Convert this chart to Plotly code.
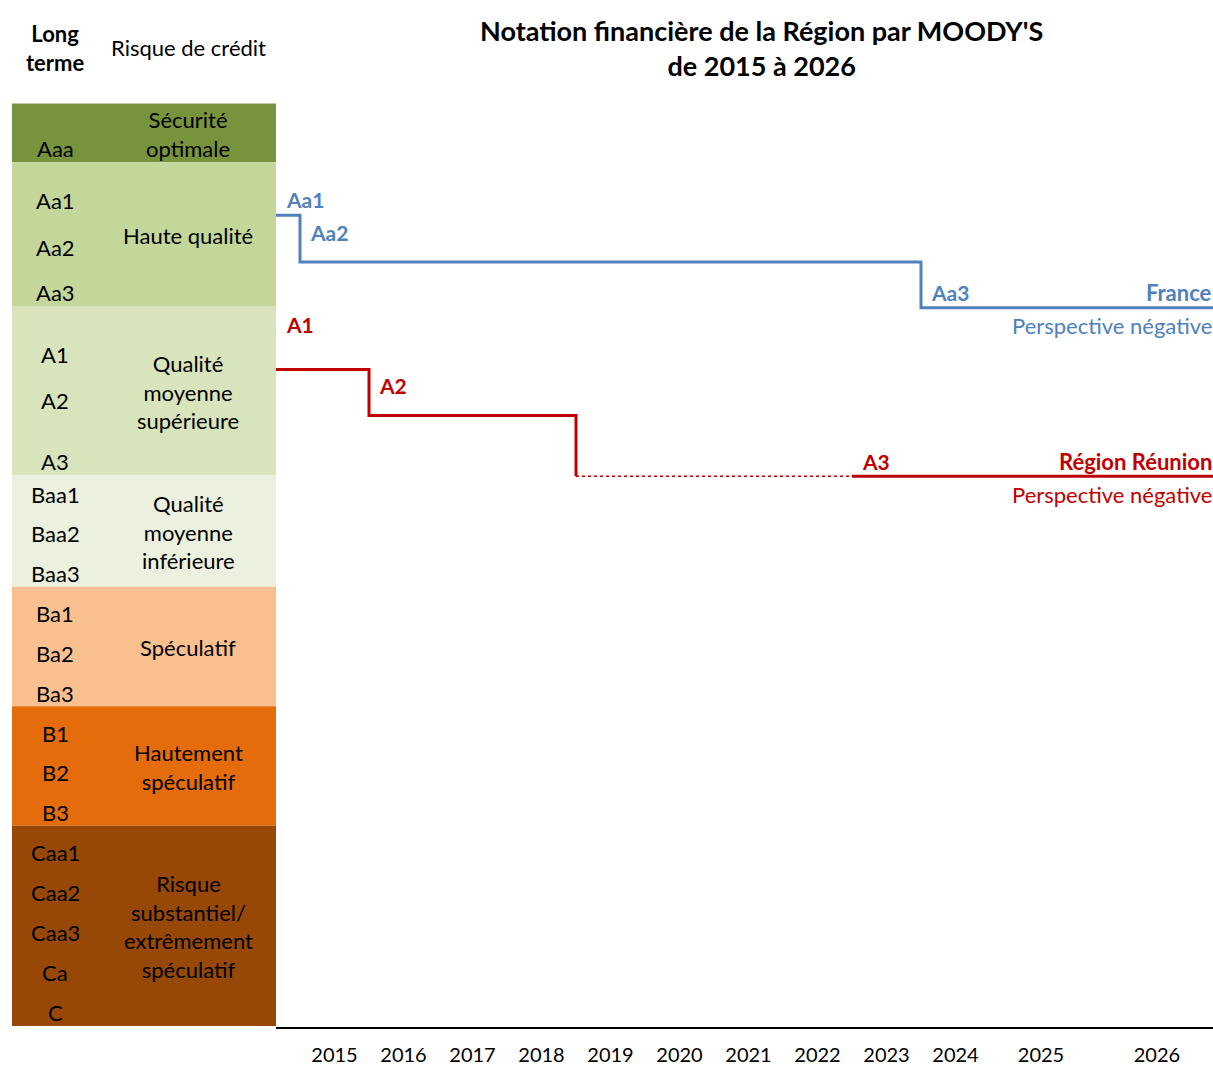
import plotly.graph_objects as go

# ------------------------------------------------------------------ data
ratings = ["Aaa", "Aa1", "Aa2", "Aa3", "A1", "A2", "A3", "Baa1", "Baa2", "Baa3",
           "Ba1", "Ba2", "Ba3", "B1", "B2", "B3", "Caa1", "Caa2", "Caa3", "Ca", "C"]
risk_categories = ["Sécurité<br>optimale", "Haute qualité",
                   "Qualité<br>moyenne<br>supérieure", "Qualité<br>moyenne<br>inférieure",
                   "Spéculatif", "Hautement<br>spéculatif",
                   "Risque<br>substantiel/<br>extrêmement<br>spéculatif"]
year_labels = [str(y) for y in range(2015, 2027)]

france_change_years = [2015, 2024]
france_ratings = ["Aa1", "Aa2", "Aa3"]
region_change_years = [2016, 2019]
region_ratings = ["A1", "A2", "A3"]
region_unrated_period = [2019, 2023]   # dotted segment
region_resume_year = 2023

# ------------------------------------------------------------------ layout constants
W, H = 1213, 1066
FONT = "Lato"
BLUE = "#4F81BD"
RED = "#C00000"
X_RANGE = [2014.652, 2028.232]
TICK_POS = [2015.5 + i for i in range(10)] + [2025.739, 2027.42]
ROW_Y = [149, 201, 248, 294, 356, 402, 463, 496, 536, 576, 616, 656, 696,
         736, 776, 816, 856, 896, 936, 976, 1016]
row_pos = dict(zip(ratings, ROW_Y))
BAND_EDGES = [104, 163, 308, 477, 589, 709, 829, 1030]
BAND_COLORS = ["#77933C", "#C4D79B", "#D8E4BC", "#EBF1DE", "#FAC090", "#E46C0A", "#974806"]
LINE_OFFSET = 15
AXIS_Y = 1031


def lvl(r):
    return row_pos[r] + LINE_OFFSET


def px(xp):
    return xp / W


fig = go.Figure()

# France step line
fx = [X_RANGE[0]] + france_change_years + [X_RANGE[1]]
fy = [lvl(r) for r in france_ratings] + [lvl(france_ratings[-1])]
fig.add_trace(go.Scatter(x=fx, y=fy, mode="lines", line=dict(color=BLUE, width=3, shape="hv"),
                         hoverinfo="skip", showlegend=False))

# Region step line (solid part)
rx = [X_RANGE[0]] + region_change_years
ry = [lvl(r) for r in region_ratings]
fig.add_trace(go.Scatter(x=rx, y=ry, mode="lines", line=dict(color=RED, width=3, shape="hv"),
                         hoverinfo="skip", showlegend=False))
# dotted part
fig.add_trace(go.Scatter(x=region_unrated_period, y=[lvl(region_ratings[-1])] * 2, mode="lines",
                         line=dict(color=RED, width=1.5, dash="dot"),
                         hoverinfo="skip", showlegend=False))
# solid after
fig.add_trace(go.Scatter(x=[region_resume_year, X_RANGE[1]], y=[lvl(region_ratings[-1])] * 2,
                         mode="lines", line=dict(color=RED, width=3),
                         hoverinfo="skip", showlegend=False))

ann = []
LAB = 22
# rating labels on lines
fr_lab_x = [X_RANGE[0]] + france_change_years
fr_lab_dy = [16, 30, 15]
for r, x, dy in zip(france_ratings, fr_lab_x, fr_lab_dy):
    ann.append(dict(x=x, y=lvl(r) - dy, xref="x", yref="y", text=f"<b>{r}</b>", showarrow=False,
                    xanchor="left", yanchor="middle", xshift=8,
                    font=dict(family=FONT, size=LAB - 1, color=BLUE)))
rg_lab_x = [X_RANGE[0], region_change_years[0], region_resume_year]
rg_lab_dy = [45, 30, 15]
for r, x, dy in zip(region_ratings, rg_lab_x, rg_lab_dy):
    ann.append(dict(x=x, y=lvl(r) - dy, xref="x", yref="y", text=f"<b>{r}</b>", showarrow=False,
                    xanchor="left", yanchor="middle", xshift=8,
                    font=dict(family=FONT, size=LAB - 1, color=RED)))

# series names + outlook
for name, r, col in [("France", france_ratings[-1], BLUE), ("Région Réunion", region_ratings[-1], RED)]:
    ann.append(dict(x=px(1213), y=lvl(r) - 15, xref="paper", yref="y", text=f"<b>{name}</b>",
                    showarrow=False, xanchor="right", yanchor="middle", xshift=1,
                    font=dict(family=FONT, size=LAB, color=col)))
    ann.append(dict(x=px(1213), y=lvl(r) + 18, xref="paper", yref="y", text="Perspective négative",
                    showarrow=False, xanchor="right", yanchor="middle", xshift=1,
                    font=dict(family=FONT, size=LAB, color=col)))

# left table: bands
TB = 22
shapes = []
for i, col in enumerate(BAND_COLORS):
    shapes.append(dict(type="rect", xref="paper", yref="y", x0=px(12), x1=px(276),
                       y0=BAND_EDGES[i], y1=BAND_EDGES[i + 1], fillcolor=col, line=dict(width=0),
                       layer="below"))
    ann.append(dict(x=px(188), y=(BAND_EDGES[i] + BAND_EDGES[i + 1]) / 2 + 1, xref="paper", yref="y",
                    text=risk_categories[i], showarrow=False, xanchor="center", yanchor="middle",
                    font=dict(family=FONT, size=TB, color="black")))
for r in ratings:
    ann.append(dict(x=px(55), y=row_pos[r], xref="paper", yref="y", text=r, showarrow=False,
                    xanchor="center", yanchor="middle", font=dict(family=FONT, size=TB, color="black")))

# headers
ann.append(dict(x=px(55), y=48, xref="paper", yref="y", text="<b>Long<br>terme</b>", showarrow=False,
                xanchor="center", yanchor="middle", font=dict(family=FONT, size=TB, color="black")))
ann.append(dict(x=px(188), y=48, xref="paper", yref="y", text="Risque de crédit", showarrow=False,
                xanchor="center", yanchor="middle", font=dict(family=FONT, size=TB, color="black")))
ann.append(dict(x=px(761), y=48, xref="paper", yref="y",
                text="<b>Notation financière de la Région par MOODY'S<br>de 2015 à 2026</b>",
                showarrow=False, xanchor="center", yanchor="middle",
                font=dict(family=FONT, size=27, color="black")))

fig.update_layout(
    width=W, height=H,
    margin=dict(l=0, r=0, t=0, b=H - AXIS_Y, pad=0),
    paper_bgcolor="white", plot_bgcolor="white",
    shapes=shapes, annotations=ann,
    showlegend=False,
    xaxis=dict(domain=[px(276), px(1213)], range=X_RANGE, showgrid=False, zeroline=False,
               showline=True, linecolor="black", linewidth=2,
               tickmode="array", tickvals=TICK_POS, ticktext=year_labels, ticks="",
               ticklabelstandoff=9,
               tickfont=dict(family=FONT, size=20, color="black")),
    yaxis=dict(range=[AXIS_Y, 0], visible=False, showgrid=False, zeroline=False),
)

fig.write_html("out.html", config={"displayModeBar": False},
               post_script="document.body.style.margin='0';document.body.style.overflow='hidden';")
